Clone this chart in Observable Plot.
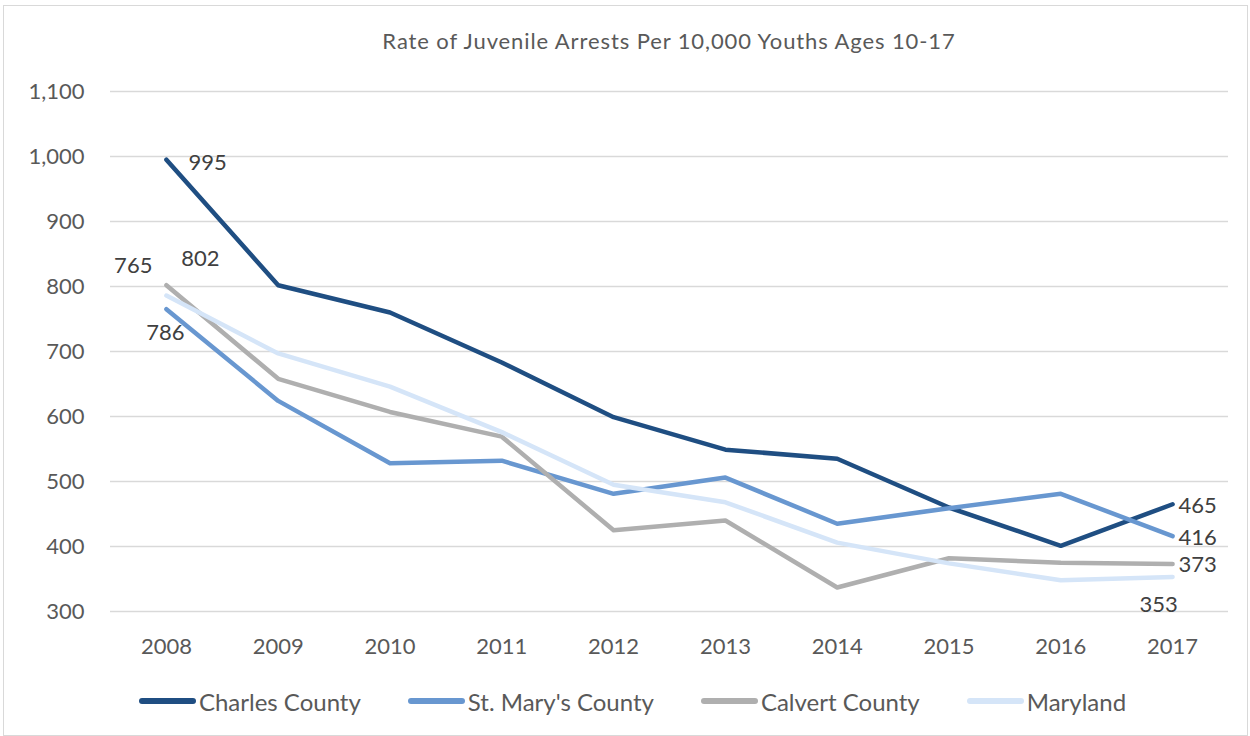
<!DOCTYPE html>
<html><head><meta charset="utf-8">
<script src="https://cdn.jsdelivr.net/npm/d3@7"></script>
<script src="https://cdn.jsdelivr.net/npm/@observablehq/plot@0.6"></script>
<style>
body{margin:0;background:#fff;font-family:Lato,"Open Sans",sans-serif;}
#wrap{position:relative;width:1250px;height:736px;overflow:hidden;background:#fff;}
#frame{position:absolute;left:3px;top:5px;width:1245px;height:731px;border:1px solid #d9d9d9;box-sizing:border-box;}
#title{position:absolute;left:110px;width:1118px;top:28px;height:26px;line-height:26px;text-align:center;font-size:22px;letter-spacing:0.9px;color:#595959;}
#chart{position:absolute;left:0;top:70px;}
#legend{position:absolute;left:0;top:670px;width:1265px;height:62px;display:flex;justify-content:center;align-items:center;gap:47px;font-size:24px;color:#595959;}
.item{display:flex;align-items:center;gap:3px;}
.sw{display:inline-block;width:57px;height:6px;border-radius:3px;}
</style>
</head><body>
<div id="wrap">
  <div id="frame"></div>
  <div id="title"></div>
  <div id="chart"></div>
  <div id="legend"></div>
</div>
<script>
const titleText = "Rate of Juvenile Arrests Per 10,000 Youths Ages 10-17";
const years = [2008, 2009, 2010, 2011, 2012, 2013, 2014, 2015, 2016, 2017];
const seriesNames = ["Charles County", "St. Mary's County", "Calvert County", "Maryland"];
const charles  = [995, 802, 760, 683, 599, 549, 535, 460, 401, 465];
const stMarys  = [765, 624, 528, 532, 481, 506, 435, 459, 481, 416];
const calvert  = [802, 658, 607, 569, 425, 440, 337, 382, 375, 373];
const maryland = [786, 697, 646, 576, 495, 468, 406, 374, 348, 353];
const yTicks = [300, 400, 500, 600, 700, 800, 900, 1000, 1100];
const colors = ["#1f4e82", "#6897d0", "#afafaf", "#d5e5f8"];

const allSeries = [charles, stMarys, calvert, maryland];
const rows = allSeries.flatMap((vals, i) => vals.map((v, j) => ({series: seriesNames[i], year: years[j], value: v})));
const pt = (i, j) => [{series: seriesNames[i], year: years[j], value: allSeries[i][j], label: String(allSeries[i][j])}];

document.getElementById("title").textContent = titleText;

const labelStyle = {x: "year", y: "value", text: "label", fontSize: 22, fill: "#404040"};
const first = 0, last = years.length - 1;

const chart = Plot.plot({
  width: 1250, height: 600,
  marginTop: 21, marginBottom: 59, marginLeft: 110, marginRight: 22,
  style: {fontFamily: "Lato, 'Open Sans', sans-serif", color: "#595959", background: "transparent", overflow: "visible"},
  x: {type: "point", domain: years, padding: 0.5, round: false, label: null},
  y: {domain: [300, 1100], label: null},
  color: {domain: seriesNames, range: colors},
  marks: [
    Plot.gridY(yTicks, {stroke: "#d9d9d9", strokeOpacity: 1, strokeWidth: 1.5}),
    Plot.axisY(yTicks, {tickSize: 0, tickPadding: 26, tickFormat: d3.format(","), fontSize: 22, label: null}),
    Plot.axisX(years, {tickSize: 0, tickPadding: 27, tickFormat: d => String(d), fontSize: 22, label: null}),
    ...seriesNames.map((s, i) => Plot.line(rows.filter(r => r.series === s), {
      x: "year", y: "value", stroke: colors[i], strokeWidth: 4.5, strokeLinejoin: "round", strokeLinecap: "round"
    })),
    // start labels
    Plot.text(pt(0, first), {...labelStyle, textAnchor: "start", dx: 22, dy: 3}),
    Plot.text(pt(2, first), {...labelStyle, textAnchor: "middle", dx: 34, dy: -26}),
    Plot.text(pt(1, first), {...labelStyle, textAnchor: "end", dx: -14, dy: -43}),
    Plot.text(pt(3, first), {...labelStyle, textAnchor: "middle", dx: -1, dy: 37}),
    // end labels
    Plot.text(pt(0, last), {...labelStyle, textAnchor: "start", dx: 6, dy: 2}),
    Plot.text(pt(1, last), {...labelStyle, textAnchor: "start", dx: 6, dy: 2}),
    Plot.text(pt(2, last), {...labelStyle, textAnchor: "start", dx: 6, dy: 1}),
    Plot.text(pt(3, last), {...labelStyle, textAnchor: "middle", dx: -14, dy: 28})
  ]
});
document.getElementById("chart").appendChild(chart);

const legend = document.getElementById("legend");
seriesNames.forEach((s, i) => {
  const item = document.createElement("div");
  item.className = "item";
  const sw = document.createElement("span");
  sw.className = "sw";
  sw.style.background = colors[i];
  const t = document.createElement("span");
  t.textContent = s;
  item.appendChild(sw); item.appendChild(t);
  legend.appendChild(item);
});
</script>
</body></html>
